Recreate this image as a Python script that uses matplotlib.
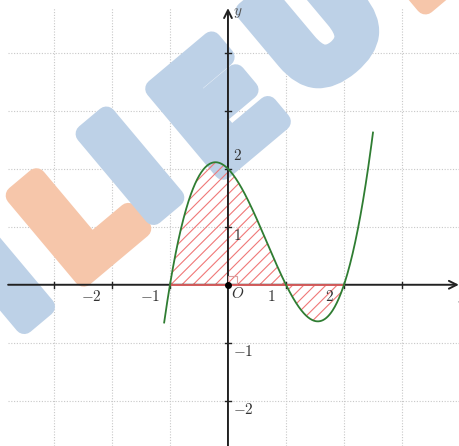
import numpy as np
import matplotlib.pyplot as plt
import matplotlib.patheffects as pe
from matplotlib.patches import Rectangle

plt.rcParams['mathtext.fontset'] = 'cm'
plt.rcParams['hatch.linewidth'] = 0.8

# cubic: y = x^3 - 2x^2 - x + 2 (roots -1, 1, 2)
coeffs = [1, -2, -1, 2]
x_start, x_end = -1.1, 2.5
area_from, area_to = -1, 2

x_ticks = [-3, -2, -1, 1, 2, 3]
y_ticks = [-2, -1, 1, 2, 3, 4]
x_labels = {-2: r'$-2$', -1: r'$-1$', 1: r'$1$', 2: r'$2$'}
y_labels = {2: r'$2$', 1: r'$1$', -1: r'$-1$', -2: r'$-2$'}

# watermark letters (baseline anchors in data units)
wm_text = ['I', 'L', 'I', 'E', 'U', '.']
wm_x = [-3.33, -2.05, -1.10, 0.40, 2.08, 3.55]
wm_y = [-0.53, 0.50, 1.35, 2.38, 3.82, 4.95]
wm_size = [105, 105, 105, 105, 105, 90]
blue, orange = '#bdd1e7', '#f6c6aa'
wm_col = [blue, orange, blue, blue, blue, orange]

xmin, xmax = -3.93, 4.0
ymin, ymax = -2.78, 4.91

fig = plt.figure(figsize=(4.6, 4.46), dpi=100)
ax = fig.add_axes([0, 0, 1, 1])
ax.set_xlim(xmin, xmax)
ax.set_ylim(ymin, ymax)
ax.axis('off')

# dotted grid
grid_kw = dict(color='#c8c8c8', lw=0.8, linestyle=(0, (1, 1.5)), zorder=0.5)
for gx in x_ticks + [4]:
    ax.plot([gx, gx], [ymin, 4.77], **grid_kw)
for gy in y_ticks:
    ax.plot([-3.79, xmax], [gy, gy], **grid_kw)

# watermark
for t, wx, wy, s, c in zip(wm_text, wm_x, wm_y, wm_size, wm_col):
    ax.text(wx, wy, t, fontsize=s, fontweight='bold', color=c,
            rotation=40, rotation_mode='anchor', ha='center', va='baseline',
            zorder=1,
            path_effects=[pe.Stroke(linewidth=14, foreground=c,
                                    joinstyle='round', capstyle='round'),
                          pe.Normal()])

# axes with arrows
ax.annotate('', xy=(3.98, 0), xytext=(-3.79, 0),
            arrowprops=dict(arrowstyle='->', lw=1.4, color='#222222',
                            mutation_scale=14, shrinkA=0, shrinkB=0), zorder=3)
ax.annotate('', xy=(0, 4.77), xytext=(0, ymin),
            arrowprops=dict(arrowstyle='->', lw=1.4, color='#222222',
                            mutation_scale=14, shrinkA=0, shrinkB=0), zorder=3)
for tx in x_ticks:
    ax.plot([tx, tx], [-0.05, 0.05], color='#222222', lw=1.0, zorder=3)
for ty in y_ticks:
    ax.plot([-0.05, 0.05], [ty, ty], color='#222222', lw=1.0, zorder=3)

# tick labels
for tx, lab in x_labels.items():
    ax.annotate(lab, (tx, 0), xytext=(-10, -12), textcoords='offset pixels',
                ha='right', va='center', fontsize=11, color='#333333', zorder=4)
for ty, lab in y_labels.items():
    dy = 13 if ty == 2 else -9
    ax.annotate(lab, (0, ty), xytext=(5, dy), textcoords='offset pixels',
                ha='left', va='center', fontsize=11, color='#333333', zorder=4)
ax.annotate(r'$O$', (0, 0), xytext=(3, -9), textcoords='offset pixels',
            ha='left', va='center', fontsize=11, color='#333333', zorder=4)
ax.annotate(r'$y$', (0, 4.77), xytext=(5, -4), textcoords='offset pixels',
            ha='left', va='center', fontsize=11, color='#555555', zorder=4)
ax.annotate(r'$x$', (3.98, 0), xytext=(-2, -14), textcoords='offset pixels',
            ha='left', va='center', fontsize=11, color='#555555', zorder=4)

# curve and shaded area
xs = np.linspace(x_start, x_end, 400)
ys = np.polyval(coeffs, xs)
xa = np.linspace(area_from, area_to, 400)
ya = np.polyval(coeffs, xa)
ax.fill_between(xa, ya, 0, facecolor='none', edgecolor='#f07878',
                linewidth=0, hatch='///', zorder=2)
ax.plot([area_from, area_to], [0, 0], color='#e06060', lw=1.3, zorder=3.5)
ax.plot(xs, ys, color='#2f7d32', lw=1.3, zorder=5)

# right angle mark and origin point
ax.add_patch(Rectangle((0, 0), 0.15, 0.15, facecolor='none',
                       edgecolor='#d9a0a0', lw=0.8, zorder=3))
ax.plot([0], [0], 'o', color='black', ms=4, zorder=6)

fig.savefig('out.png', dpi=100)
